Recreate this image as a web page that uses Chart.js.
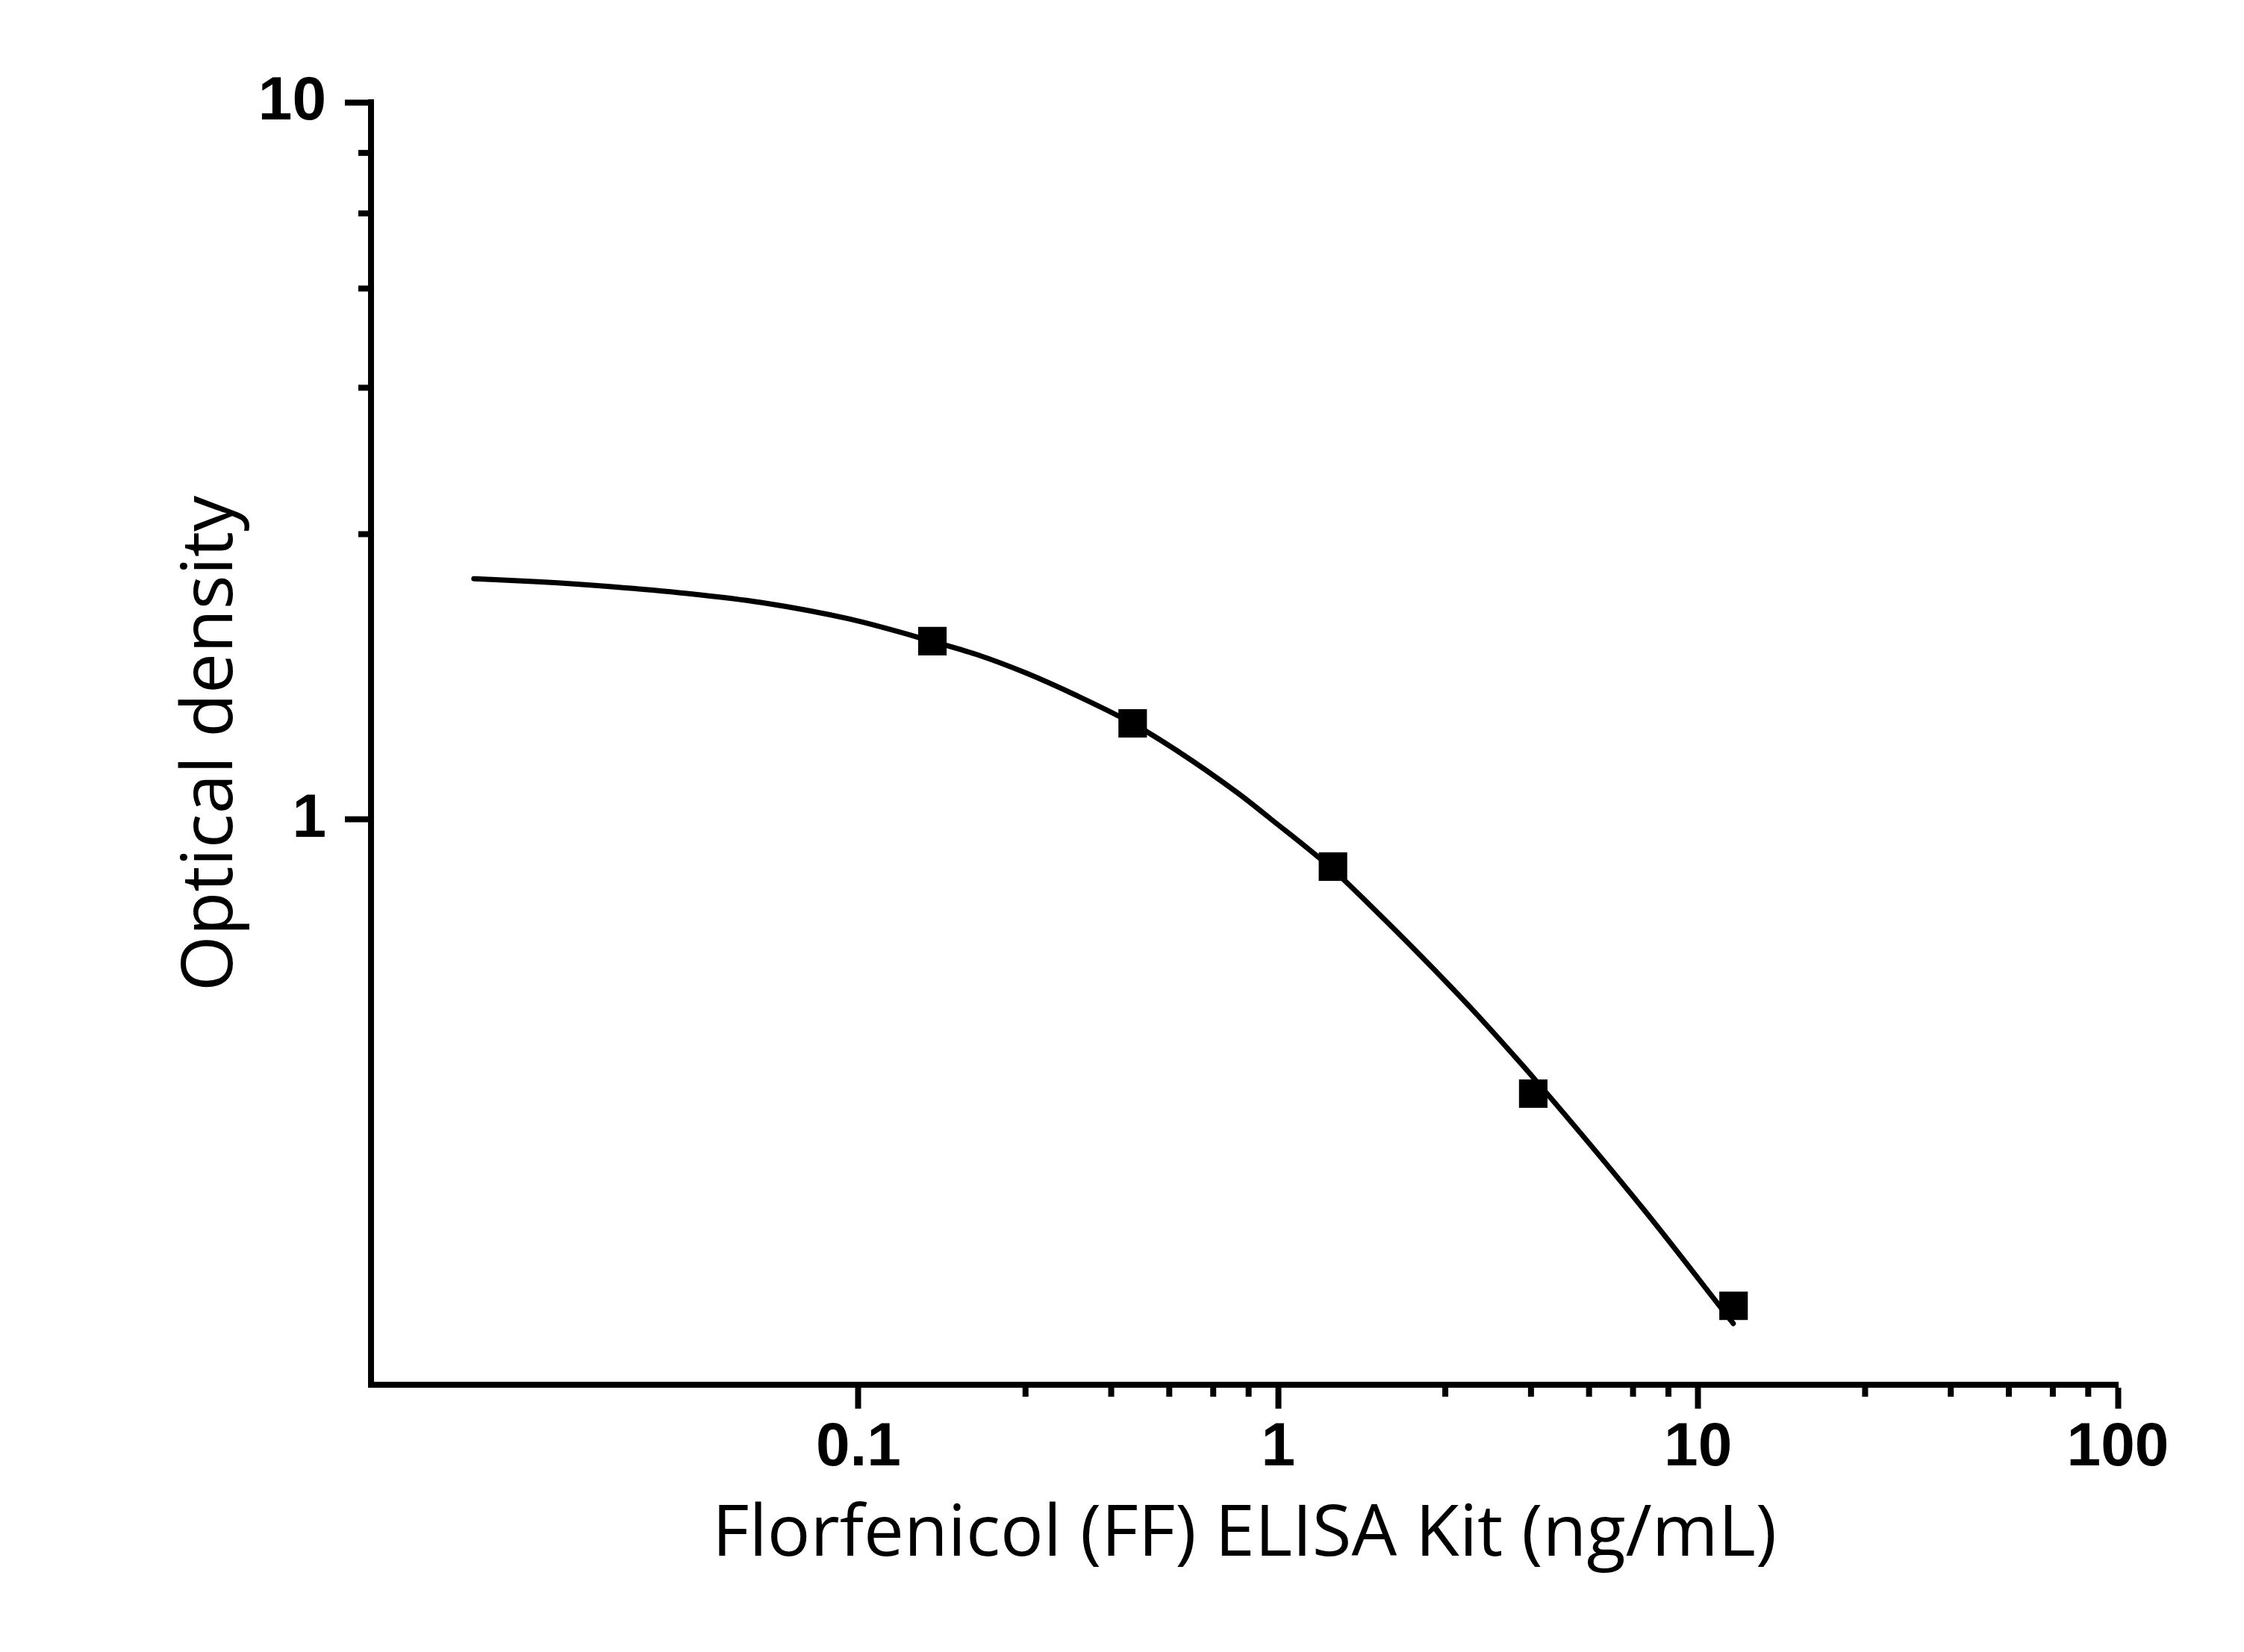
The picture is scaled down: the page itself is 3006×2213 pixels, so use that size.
<!DOCTYPE html>
<html>
<head>
<meta charset="utf-8">
<script src="https://cdn.jsdelivr.net/npm/chart.js@4.4.1/dist/chart.umd.min.js"></script>
<style>
  html, body { margin: 0; padding: 0; background: #ffffff; }
  #c { display: block; }
</style>
</head>
<body>
<canvas id="c" width="3006" height="2213" style="width:3006px;height:2213px"></canvas>
<script>
// ---- data ----
const markerX = [0.15, 0.45, 1.35, 4.05, 12.15];
const markerY = [1.773, 1.362, 0.860, 0.415, 0.210];

const curveX = [0.01213, 0.01719, 0.02592, 0.03906, 0.0589, 0.09519, 0.1496, 0.1912, 0.2507, 0.3302, 0.4504, 0.5699, 0.8045, 0.960, 1.349, 1.657, 2.182, 2.872, 3.526, 4.05, 7.469, 11.27, 12.13];
const curveY = [2.167, 2.146, 2.112, 2.067, 2.007, 1.904, 1.773, 1.699, 1.601, 1.490, 1.361, 1.251, 1.087, 1.002, 0.852, 0.759, 0.6464, 0.5467, 0.4790, 0.437, 0.2849, 0.2097, 0.1984];

const xMajorTicks = [0.1, 1, 10, 100];
const xTickLabels = ['0.1', '1', '10', '100'];
const xMinorTicks = [0.25, 0.4, 0.55, 0.7, 0.85, 2.5, 4, 5.5, 7, 8.5, 25, 40, 55, 70, 85];
const yMajorTicks = [1, 10];
const yTickLabels = ['1', '10'];
const yMinorTicks = [2.5, 4, 5.5, 7, 8.5];

const xMin = 0.0069, xMax = 100;
const yMin = 0.163, yMax = 10;

const xTitle = 'Florfenicol (FF) ELISA Kit (ng/mL)';
const yTitle = 'Optical density';

// ---- build ----
const markerPoints = markerX.map((x, i) => ({ x: x, y: markerY[i] }));
const curvePoints = curveX.map((x, i) => ({ x: x, y: curveY[i] }));

const minorTickPlugin = {
  id: 'minorTicks',
  afterDraw(chart) {
    const ctx = chart.ctx;
    const xs = chart.scales.x, ys = chart.scales.y;
    const area = chart.chartArea;
    ctx.save();
    ctx.strokeStyle = '#000';
    ctx.lineWidth = 8;
    ctx.lineCap = 'butt';
    xMinorTicks.forEach(v => {
      const px = xs.getPixelForValue(v);
      ctx.beginPath();
      ctx.moveTo(px, area.bottom);
      ctx.lineTo(px, area.bottom + 16);
      ctx.stroke();
    });
    yMinorTicks.forEach(v => {
      const py = ys.getPixelForValue(v);
      ctx.beginPath();
      ctx.moveTo(area.left, py);
      ctx.lineTo(area.left - 17, py);
      ctx.stroke();
    });
    ctx.restore();
  }
};

const tickFont = { family: '"Liberation Sans", Arial, sans-serif', size: 82, weight: 'bold', lineHeight: 1 };
const titleFont = { family: '"Open Sans", "Noto Sans", sans-serif', size: 96, weight: 'normal', lineHeight: 1.2 };

new Chart(document.getElementById('c'), {
  type: 'scatter',
  data: {
    datasets: [
      {
        label: 'points',
        data: markerPoints,
        pointStyle: 'rect',
        pointRadius: 27,
        pointHoverRadius: 27,
        pointBackgroundColor: '#000',
        pointBorderWidth: 0,
        showLine: false,
        order: 0
      },
      {
        label: 'fit',
        data: curvePoints,
        showLine: true,
        borderColor: '#000',
        borderWidth: 7,
        borderCapStyle: 'round',
        pointRadius: 0,
        pointHoverRadius: 0,
        cubicInterpolationMode: 'monotone',
        fill: false,
        order: 1
      }
    ]
  },
  options: {
    responsive: false,
    devicePixelRatio: 1,
    animation: false,
    layout: { padding: { left: 0, top: 137, right: 169, bottom: 0 } },
    plugins: { legend: { display: false }, tooltip: { enabled: false } },
    scales: {
      x: {
        type: 'logarithmic',
        position: 'bottom',
        min: xMin,
        max: xMax,
        afterBuildTicks: (s) => { s.ticks = xMajorTicks.map(v => ({ value: v })); },
        afterFit: (s) => { s.height = 2213 - 1855; },
        grid: { display: true, drawOnChartArea: false, drawTicks: true, tickLength: 32, tickWidth: 8, tickColor: '#000' },
        border: { display: true, color: '#000', width: 8 },
        ticks: {
          autoSkip: false,
          maxRotation: 0,
          color: '#000',
          font: tickFont,
          padding: 12,
          callback: (v, i) => xTickLabels[i]
        },
        title: {
          display: true,
          text: xTitle,
          color: '#000',
          font: titleFont,
          padding: { top: 0, bottom: 99 }
        }
      },
      y: {
        type: 'logarithmic',
        position: 'left',
        min: yMin,
        max: yMax,
        afterBuildTicks: (s) => { s.ticks = yMajorTicks.map(v => ({ value: v })); },
        afterFit: (s) => { s.width = 497; },
        grid: { display: true, drawOnChartArea: false, drawTicks: true, tickLength: 35, tickWidth: 8, tickColor: '#000' },
        border: { display: true, color: '#000', width: 8 },
        ticks: {
          autoSkip: false,
          color: '#000',
          font: tickFont,
          padding: 25,
          callback: (v, i) => yTickLabels[i]
        },
        title: {
          display: true,
          text: yTitle,
          color: '#000',
          font: titleFont,
          padding: { top: 226, bottom: 0 }
        }
      }
    }
  },
  plugins: [minorTickPlugin]
});
</script>
</body>
</html>
